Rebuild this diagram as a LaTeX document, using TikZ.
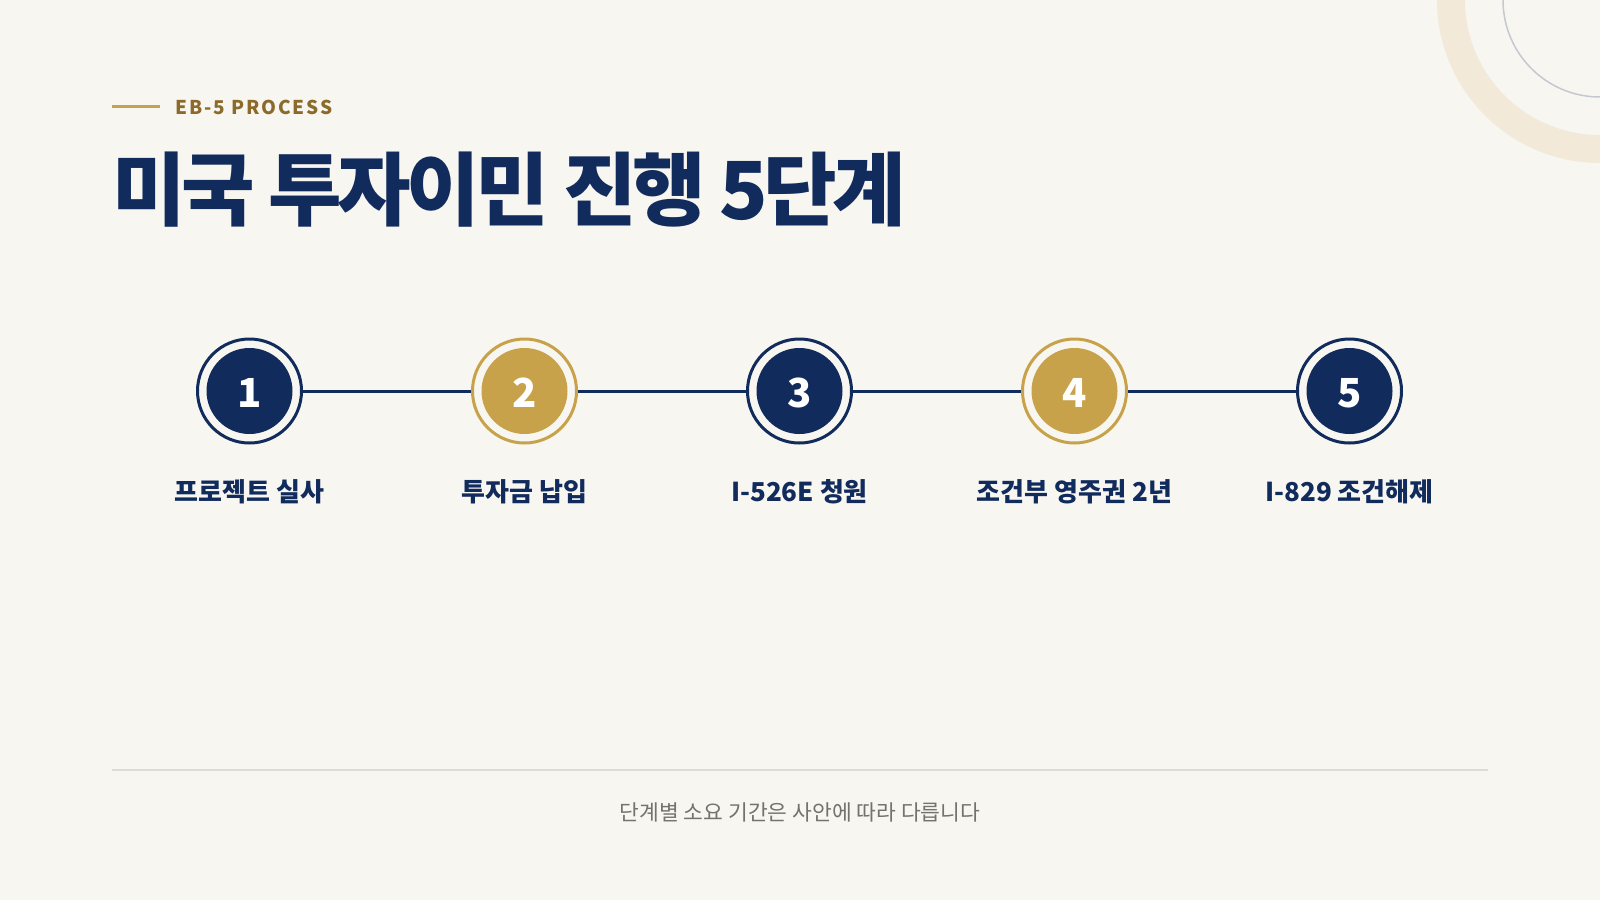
\documentclass[tikz,border=0pt]{standalone}
\usepackage{fontspec}
\setmainfont{Noto Sans CJK KR}
\definecolor{paper}{HTML}{F8F6F1}
\definecolor{navy}{HTML}{112B5C}
\definecolor{gold}{HTML}{C8A24A}
\definecolor{goldtext}{HTML}{8C6A2A}
\definecolor{beige}{HTML}{F2E9D8}
\definecolor{haze}{HTML}{C5C8CF}
\definecolor{rule}{HTML}{DEDBD5}
\definecolor{note}{HTML}{75716B}
\tikzset{
	ring/.style={circle, draw=#1, line width=3pt, minimum size=104pt, inner sep=0pt, fill=paper},
	disc/.style={circle, fill=#1, minimum size=86pt, inner sep=0pt, text height=32pt, text depth=0pt, text=white, font=\bfseries\fontsize{40}{40}\selectfont},
	link/.style={navy, line width=3pt},
	steplabel/.style={anchor=base, inner sep=0pt, text=navy, font=\bfseries\fontsize{26}{26}\selectfont},
}
\begin{document}
\begin{tikzpicture}[x=1pt, y=-1pt]
	\fill[paper] (0,0) rectangle (1600,900);
	\useasboundingbox (0,0) rectangle (1600,900);
	\clip (0,0) rectangle (1600,900);
	% corner rings
	\draw[beige, line width=28pt] (1600,0) circle (149);
	\draw[haze, line width=1.5pt] (1600,0) circle (97);
	% heading
	\draw[gold, line width=3pt] (112,106) coordinate(tag) -- (160,106) coordinate(tagend);
	\node[anchor=base west, inner sep=0pt, text=goldtext, font=\bfseries\fontsize{19}{19}\selectfont\addfontfeature{LetterSpace=10}] (eb5) at (175,114) {EB-5 PROCESS};
	\node[anchor=base west, inner sep=0pt, text=navy, font=\bfseries\fontsize{80}{80}\selectfont\addfontfeature{LetterSpace=-5.7}] (title) at (112,219) {미국 투자이민 진행 5단계};
	% steps
	\foreach \i/\x/\col/\txt in {1/249.5/navy/프로젝트 실사, 2/524.5/gold/투자금 납입, 3/799.5/navy/I-526E 청원, 4/1074.5/gold/조건부 영주권 2년, 5/1349.5/navy/I-829 조건해제} {
		\node[ring=\col] (o\i) at (\x,391) {};
		\node[disc=\col] (s\i) at (o\i) {\i};
		\node[steplabel] (l\i) at (\x,501) {\txt};
	}
	\foreach \a/\b in {1/2, 2/3, 3/4, 4/5}
		\draw[link] (o\a) -- (o\b);
	% footer
	\draw[rule, line width=1.5pt] (112,770) coordinate(rulestart) -- (1488,770) coordinate(ruleend);
	\node[anchor=base, inner sep=0pt, text=note, font=\fontsize{21.5}{21.5}\selectfont] (note) at (800,820) {단계별 소요 기간은 사안에 따라 다릅니다};
\end{tikzpicture}
\end{document}
